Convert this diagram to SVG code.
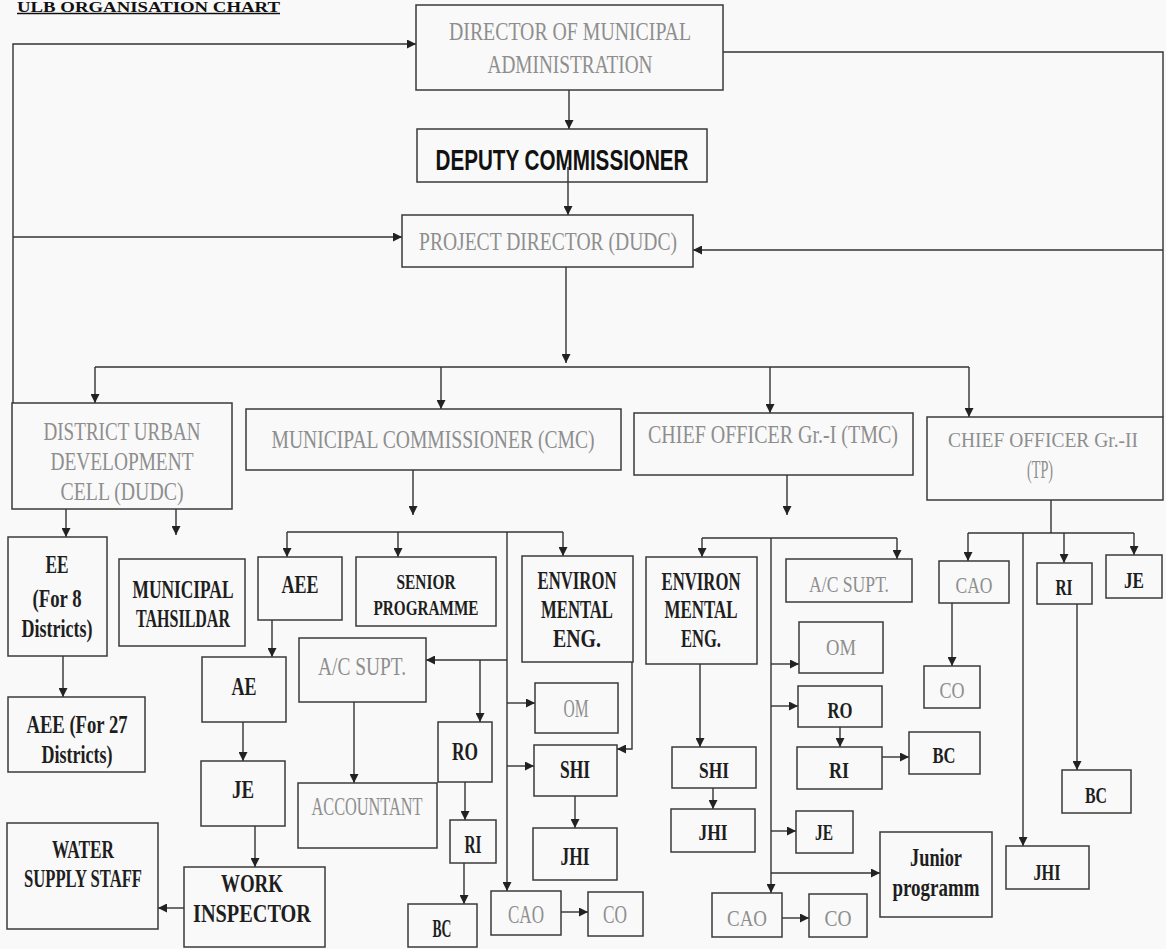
<svg xmlns="http://www.w3.org/2000/svg" width="1166" height="949" viewBox="0 0 1166 949">
<style>
.bg{fill:#f9f9f9}
.box{fill:none;stroke:#3a3a3a;stroke-width:1.5}
.ln{fill:none;stroke:#333;stroke-width:1.4}
.a{marker-end:url(#ah)}
text{font-family:"Liberation Serif","Times New Roman",serif;text-anchor:middle}
.k{fill:#1e1e1e;font-size:26px;font-weight:bold}
.g{fill:#8e8e8e;font-size:25px}
.ks{fill:#1e1e1e;font-size:24px;font-weight:bold}
.gs{fill:#8e8e8e;font-size:24px}
.sp{font-size:22px}
.dep{font-family:"Liberation Sans",Arial,sans-serif;font-weight:bold;font-size:29px;fill:#111}
.title{text-anchor:start;font-weight:bold;font-size:15px;fill:#111}
</style>
<defs>
<marker id="ah" viewBox="0 0 10 10" refX="10" refY="5" markerWidth="9" markerHeight="9" markerUnits="userSpaceOnUse" orient="auto">
<path d="M0,0 L10,5 L0,10 z" fill="#222"/>
</marker>
</defs>
<rect class="bg" x="0" y="0" width="1166" height="949"/>

<g id="title">
<text class="title" x="17" y="11.5" textLength="263" lengthAdjust="spacingAndGlyphs">ULB ORGANISATION CHART</text>
<line x1="17" y1="13.5" x2="280" y2="13.5" stroke="#111" stroke-width="1.6"/>
</g>

<g id="connectors">
<path class="ln a" d="M13,403 V44 H416"/>
<path class="ln a" d="M13,237 H402"/>
<path class="ln" d="M723,52 H1163 V417"/>
<path class="ln a" d="M1163,250 H693"/>
<path class="ln a" d="M569,90 V129"/>
<path class="ln a" d="M568,167 V215"/>
<path class="ln a" d="M566,267 V363"/>
<path class="ln" d="M95,367 H969"/>
<path class="ln a" d="M95,367 V403"/>
<path class="ln a" d="M441,367 V409"/>
<path class="ln a" d="M770,367 V413"/>
<path class="ln a" d="M969,367 V417"/>
<path class="ln a" d="M66,509 V537"/>
<path class="ln a" d="M176,509 V535"/>
<path class="ln a" d="M63,656 V697"/>
<path class="ln a" d="M413,470 V515"/>
<path class="ln" d="M287,532 H563"/>
<path class="ln a" d="M287,532 V557"/>
<path class="ln a" d="M398,532 V557"/>
<path class="ln a" d="M563,532 V556"/>
<path class="ln a" d="M507,532 V891"/>
<path class="ln a" d="M507,660 H426"/>
<path class="ln a" d="M480,660 V722"/>
<path class="ln a" d="M354,702 V783"/>
<path class="ln a" d="M465,782 V820"/>
<path class="ln a" d="M464,863 V904"/>
<path class="ln a" d="M507,703 H535"/>
<path class="ln a" d="M507,766 H534"/>
<path class="ln a" d="M632,662 V749 H617"/>
<path class="ln a" d="M575,796 V828"/>
<path class="ln a" d="M561,912 H588"/>
<path class="ln a" d="M272,620 V657"/>
<path class="ln a" d="M243,722 V761"/>
<path class="ln a" d="M255,826 V867"/>
<path class="ln a" d="M184,908 H158"/>
<path class="ln a" d="M787,475 V515"/>
<path class="ln" d="M702,538 H897"/>
<path class="ln a" d="M702,538 V557"/>
<path class="ln a" d="M897,538 V559"/>
<path class="ln a" d="M771,538 V893"/>
<path class="ln a" d="M771,664 H799"/>
<path class="ln a" d="M771,706 H798"/>
<path class="ln a" d="M840,727 V747"/>
<path class="ln a" d="M882,757 H909"/>
<path class="ln a" d="M700,664 V747"/>
<path class="ln a" d="M713,788 V809"/>
<path class="ln a" d="M771,831 H796"/>
<path class="ln a" d="M771,873 H880"/>
<path class="ln a" d="M782,918 H809"/>
<path class="ln" d="M1051,500 V533"/>
<path class="ln" d="M968,533 H1134"/>
<path class="ln a" d="M968,533 V561"/>
<path class="ln a" d="M1064,533 V563"/>
<path class="ln a" d="M1134,533 V555"/>
<path class="ln a" d="M1023,533 V846"/>
<path class="ln a" d="M952,603 V666"/>
<path class="ln a" d="M1077,604 V770"/>
</g>

<g id="director"><rect class="box" x="416" y="5" width="307" height="85"/>
<text class="g" x="570" y="40" textLength="242" lengthAdjust="spacingAndGlyphs">DIRECTOR OF MUNICIPAL</text>
<text class="g" x="570" y="73" textLength="165" lengthAdjust="spacingAndGlyphs">ADMINISTRATION</text></g>
<g id="deputy"><rect class="box" x="417" y="129" width="290" height="53"/>
<text class="dep" x="562" y="170" textLength="253" lengthAdjust="spacingAndGlyphs">DEPUTY COMMISSIONER</text></g>
<g id="pd"><rect class="box" x="402" y="215" width="291" height="52"/>
<text class="g" x="548" y="250" textLength="258" lengthAdjust="spacingAndGlyphs">PROJECT DIRECTOR (DUDC)</text></g>

<g id="dudc"><rect class="box" x="12" y="403" width="220" height="106"/>
<text class="g" x="122" y="440" textLength="157" lengthAdjust="spacingAndGlyphs">DISTRICT URBAN</text>
<text class="g" x="122" y="470" textLength="143" lengthAdjust="spacingAndGlyphs">DEVELOPMENT</text>
<text class="g" x="122" y="500" textLength="123" lengthAdjust="spacingAndGlyphs">CELL (DUDC)</text></g>
<g id="mc"><rect class="box" x="246" y="409" width="375" height="61"/>
<text class="g" x="433" y="448" textLength="323" lengthAdjust="spacingAndGlyphs">MUNICIPAL COMMISSIONER (CMC)</text></g>
<g id="co1"><rect class="box" x="634" y="413" width="279" height="62"/>
<text class="g" x="773" y="443" textLength="250" lengthAdjust="spacingAndGlyphs">CHIEF OFFICER Gr.-I (TMC)</text></g>
<g id="co2"><rect class="box" x="927" y="417" width="236" height="83"/>
<text class="g sp" x="1043" y="447" textLength="190" lengthAdjust="spacingAndGlyphs">CHIEF OFFICER Gr.-II</text>
<text class="g" x="1040" y="478" textLength="26" lengthAdjust="spacingAndGlyphs">(TP)</text></g>

<g id="ee"><rect class="box" x="8" y="537" width="99" height="119"/>
<text class="k" x="57" y="573" textLength="23" lengthAdjust="spacingAndGlyphs">EE</text>
<text class="k" x="57" y="607" textLength="49" lengthAdjust="spacingAndGlyphs">(For 8</text>
<text class="k" x="57" y="637" textLength="71" lengthAdjust="spacingAndGlyphs">Districts)</text></g>
<g id="aee27"><rect class="box" x="8" y="697" width="137" height="75"/>
<text class="k" x="77" y="733" textLength="101" lengthAdjust="spacingAndGlyphs">AEE (For 27</text>
<text class="k" x="77" y="763" textLength="71" lengthAdjust="spacingAndGlyphs">Districts)</text></g>
<g id="tahsildar"><rect class="box" x="119" y="559" width="126" height="87"/>
<text class="k" x="183" y="598" textLength="101" lengthAdjust="spacingAndGlyphs">MUNICIPAL</text>
<text class="k" x="183" y="627" textLength="94" lengthAdjust="spacingAndGlyphs">TAHSILDAR</text></g>
<g id="water"><rect class="box" x="7" y="823" width="151" height="106"/>
<text class="k" x="83" y="858" textLength="62" lengthAdjust="spacingAndGlyphs">WATER</text>
<text class="k" x="83" y="887" textLength="118" lengthAdjust="spacingAndGlyphs">SUPPLY STAFF</text></g>
<g id="workinsp"><rect class="box" x="184" y="867" width="141" height="80"/>
<text class="k" x="252" y="892" textLength="62" lengthAdjust="spacingAndGlyphs">WORK</text>
<text class="k" x="252" y="922" textLength="118" lengthAdjust="spacingAndGlyphs">INSPECTOR</text></g>
<g id="ae"><rect class="box" x="202" y="657" width="84" height="65"/>
<text class="k" x="244" y="695" textLength="25" lengthAdjust="spacingAndGlyphs">AE</text></g>
<g id="je"><rect class="box" x="201" y="761" width="84" height="65"/>
<text class="k" x="243" y="798" textLength="22" lengthAdjust="spacingAndGlyphs">JE</text></g>

<g id="aee"><rect class="box" x="258" y="557" width="84" height="63"/>
<text class="k" x="300" y="593" textLength="37" lengthAdjust="spacingAndGlyphs">AEE</text></g>
<g id="senior"><rect class="box" x="356" y="557" width="140" height="69"/>
<text class="k sp" x="426" y="589" textLength="59" lengthAdjust="spacingAndGlyphs">SENIOR</text>
<text class="k sp" x="426" y="615" textLength="105" lengthAdjust="spacingAndGlyphs">PROGRAMME</text></g>
<g id="env-cmc"><rect class="box" x="522" y="556" width="111" height="106"/>
<text class="k" x="577" y="589" textLength="79" lengthAdjust="spacingAndGlyphs">ENVIRON</text>
<text class="k" x="577" y="618" textLength="72" lengthAdjust="spacingAndGlyphs">MENTAL</text>
<text class="k" x="577" y="647" textLength="48" lengthAdjust="spacingAndGlyphs">ENG.</text></g>
<g id="acsupt-cmc"><rect class="box" x="299" y="638" width="127" height="64"/>
<text class="g" x="362" y="675" textLength="88" lengthAdjust="spacingAndGlyphs">A/C SUPT.</text></g>
<g id="accountant"><rect class="box" x="298" y="783" width="139" height="65"/>
<text class="g" x="367" y="815" textLength="111" lengthAdjust="spacingAndGlyphs">ACCOUNTANT</text></g>
<g id="ro-cmc"><rect class="box" x="438" y="722" width="54" height="60"/>
<text class="k" x="465" y="760" textLength="26" lengthAdjust="spacingAndGlyphs">RO</text></g>
<g id="ri-cmc"><rect class="box" x="450" y="820" width="46" height="43"/>
<text class="k" x="473" y="853" textLength="17" lengthAdjust="spacingAndGlyphs">RI</text></g>
<g id="bc-cmc"><rect class="box" x="408" y="904" width="69" height="43"/>
<text class="k" x="442" y="937" textLength="19" lengthAdjust="spacingAndGlyphs">BC</text></g>
<g id="om-cmc"><rect class="box" x="535" y="683" width="83" height="50"/>
<text class="g" x="576" y="717" textLength="25" lengthAdjust="spacingAndGlyphs">OM</text></g>
<g id="shi-cmc"><rect class="box" x="534" y="745" width="83" height="51"/>
<text class="k" x="575" y="778" textLength="30" lengthAdjust="spacingAndGlyphs">SHI</text></g>
<g id="jhi-cmc"><rect class="box" x="533" y="828" width="84" height="52"/>
<text class="k" x="575" y="865" textLength="29" lengthAdjust="spacingAndGlyphs">JHI</text></g>
<g id="cao-cmc"><rect class="box" x="491" y="891" width="70" height="44"/>
<text class="g" x="526" y="923" textLength="36" lengthAdjust="spacingAndGlyphs">CAO</text></g>
<g id="co-cmc"><rect class="box" x="588" y="892" width="55" height="44"/>
<text class="g" x="615" y="923" textLength="24" lengthAdjust="spacingAndGlyphs">CO</text></g>

<g id="env-tmc"><rect class="box" x="646" y="557" width="111" height="107"/>
<text class="k" x="701" y="590" textLength="79" lengthAdjust="spacingAndGlyphs">ENVIRON</text>
<text class="k" x="701" y="618" textLength="73" lengthAdjust="spacingAndGlyphs">MENTAL</text>
<text class="k" x="701" y="647" textLength="40" lengthAdjust="spacingAndGlyphs">ENG.</text></g>
<g id="acsupt-tmc"><rect class="box" x="786" y="559" width="126" height="43"/>
<text class="gs" x="849" y="592" textLength="80" lengthAdjust="spacingAndGlyphs">A/C SUPT.</text></g>
<g id="om-tmc"><rect class="box" x="799" y="622" width="84" height="51"/>
<text class="gs" x="841" y="655" textLength="30" lengthAdjust="spacingAndGlyphs">OM</text></g>
<g id="ro-tmc"><rect class="box" x="798" y="686" width="84" height="41"/>
<text class="ks" x="840" y="718" textLength="25" lengthAdjust="spacingAndGlyphs">RO</text></g>
<g id="ri-tmc"><rect class="box" x="797" y="747" width="85" height="42"/>
<text class="ks" x="839" y="778" textLength="20" lengthAdjust="spacingAndGlyphs">RI</text></g>
<g id="bc-tmc"><rect class="box" x="909" y="732" width="71" height="42"/>
<text class="ks" x="944" y="763" textLength="23" lengthAdjust="spacingAndGlyphs">BC</text></g>
<g id="shi-tmc"><rect class="box" x="672" y="747" width="84" height="41"/>
<text class="ks" x="714" y="778" textLength="30" lengthAdjust="spacingAndGlyphs">SHI</text></g>
<g id="jhi-tmc"><rect class="box" x="671" y="809" width="84" height="43"/>
<text class="ks" x="713" y="840" textLength="29" lengthAdjust="spacingAndGlyphs">JHI</text></g>
<g id="je-tmc"><rect class="box" x="796" y="811" width="57" height="42"/>
<text class="ks" x="824" y="840" textLength="18" lengthAdjust="spacingAndGlyphs">JE</text></g>
<g id="junior"><rect class="box" x="880" y="832" width="112" height="85"/>
<text class="k" x="936" y="866" textLength="52" lengthAdjust="spacingAndGlyphs">Junior</text>
<text class="k" x="936" y="896" textLength="87" lengthAdjust="spacingAndGlyphs">programm</text></g>
<g id="cao-tmc"><rect class="box" x="712" y="893" width="70" height="44"/>
<text class="gs" x="747" y="926" textLength="40" lengthAdjust="spacingAndGlyphs">CAO</text></g>
<g id="co-tmc"><rect class="box" x="809" y="894" width="58" height="43"/>
<text class="gs" x="838" y="926" textLength="27" lengthAdjust="spacingAndGlyphs">CO</text></g>

<g id="cao-tp"><rect class="box" x="939" y="561" width="70" height="42"/>
<text class="gs" x="974" y="593" textLength="37" lengthAdjust="spacingAndGlyphs">CAO</text></g>
<g id="co-tp"><rect class="box" x="924" y="666" width="56" height="42"/>
<text class="gs" x="952" y="698" textLength="25" lengthAdjust="spacingAndGlyphs">CO</text></g>
<g id="ri-tp"><rect class="box" x="1037" y="563" width="55" height="41"/>
<text class="ks" x="1064" y="595" textLength="17" lengthAdjust="spacingAndGlyphs">RI</text></g>
<g id="je-tp"><rect class="box" x="1106" y="555" width="56" height="43"/>
<text class="ks" x="1134" y="588" textLength="20" lengthAdjust="spacingAndGlyphs">JE</text></g>
<g id="bc-tp"><rect class="box" x="1062" y="770" width="69" height="43"/>
<text class="ks" x="1096" y="803" textLength="22" lengthAdjust="spacingAndGlyphs">BC</text></g>
<g id="jhi-tp"><rect class="box" x="1006" y="846" width="83" height="43"/>
<text class="ks" x="1047" y="880" textLength="27" lengthAdjust="spacingAndGlyphs">JHI</text></g>
</svg>
